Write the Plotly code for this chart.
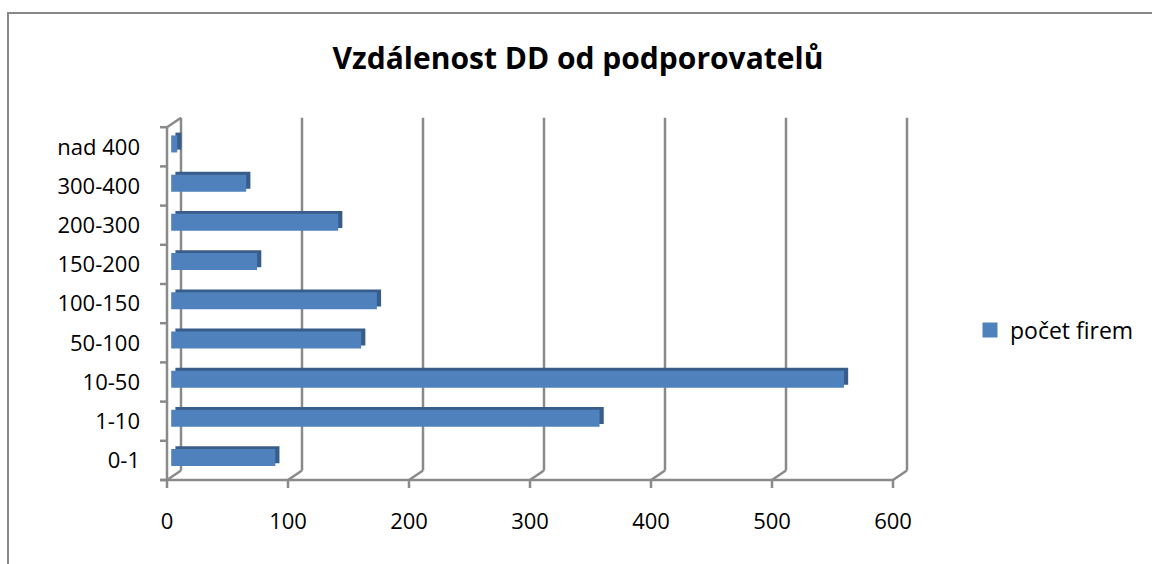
import plotly.graph_objects as go

# ---- data ----
categories = ["0-1", "1-10", "10-50", "50-100", "100-150", "150-200", "200-300", "300-400", "nad 400"]
counts = [86, 354, 556, 157, 170, 71, 138, 62, 5]
x_ticks = [0, 100, 200, 300, 400, 500, 600]
series_name = "počet firem"
title_text = "Vzdálenost DD od podporovatelů"

# ---- geometry / style constants ----
W, H = 1152, 564
PX_PER_UNIT = 1.21      # px per value unit on the front plane
PX_PER_CAT = 39.2       # px per category
X0_PX = 167             # px of value 0 (front plane)
YB_PX = 480             # px of front floor line
DX_PX, DY_PX = 14, 9.5  # 3D depth offset
plot_left, plot_right, plot_top, plot_bottom = 155, 913, 112, 492

xlo = (plot_left - X0_PX) / PX_PER_UNIT
xhi = (plot_right - X0_PX) / PX_PER_UNIT
ylo = -0.5 - (plot_bottom - YB_PX) / PX_PER_CAT
yhi = -0.5 + (YB_PX - plot_top) / PX_PER_CAT

dxu = DX_PX / PX_PER_UNIT
dyc = DY_PX / PX_PER_CAT
front_f, depth_d = 0.3, 0.3
bar_h = 17 / PX_PER_CAT

FONT = "Open Sans"
GRID = "#8a8a8a"
FRONT = "#4f81bd"
DARK = "#385d8a"

fig = go.Figure()
# back/top/side faces
fig.add_trace(go.Bar(
    y=categories, x=counts, orientation="h",
    base=(front_f + depth_d) * dxu,
    width=bar_h, offset=-bar_h / 2 + (front_f + depth_d) * dyc,
    marker=dict(color=DARK, line=dict(width=0)),
    showlegend=False, hoverinfo="skip",
))
# front faces
fig.add_trace(go.Bar(
    y=categories, x=counts, orientation="h", name=series_name,
    base=front_f * dxu,
    width=bar_h, offset=-bar_h / 2 + front_f * dyc,
    marker=dict(color=FRONT, line=dict(width=0)),
    showlegend=False,
))
# legend entry (square key like the reference)
fig.add_trace(go.Scatter(
    x=[None], y=[None], mode="markers", name=series_name,
    marker=dict(symbol="square", size=15, color=FRONT),
    showlegend=True,
))

shapes = []
top_c = len(categories) - 0.5
line = dict(color=GRID, width=2.5)
for t in x_ticks:
    shapes.append(dict(type="line", xref="x", yref="y", layer="below",
                       x0=t + dxu, y0=-0.5 + dyc, x1=t + dxu, y1=top_c + dyc, line=line))
    shapes.append(dict(type="line", xref="x", yref="y", layer="below",
                       x0=t, y0=-0.5, x1=t + dxu, y1=-0.5 + dyc, line=line))
    shapes.append(dict(type="line", xref="x", yref="y", layer="below",
                       x0=t, y0=-0.5, x1=t, y1=-0.5 - 8 / PX_PER_CAT, line=line))
# floor front line
shapes.append(dict(type="line", xref="x", yref="y", layer="below",
                   x0=-7 / PX_PER_UNIT, y0=-0.5, x1=x_ticks[-1], y1=-0.5, line=line))
# left wall
shapes.append(dict(type="line", xref="x", yref="y", layer="below",
                   x0=0, y0=-0.5, x1=0, y1=top_c, line=line))
shapes.append(dict(type="line", xref="x", yref="y", layer="below",
                   x0=0, y0=top_c, x1=dxu, y1=top_c + dyc, line=line))
for k in range(len(categories) + 1):
    shapes.append(dict(type="line", xref="x", yref="y", layer="below",
                       x0=0, y0=k - 0.5, x1=-7 / PX_PER_UNIT, y1=k - 0.5, line=line))

# outer chart border
pw = plot_right - plot_left
ph = plot_bottom - plot_top
shapes.append(dict(type="rect", xref="paper", yref="paper", layer="below",
                   x0=(8 - plot_left) / pw, x1=(W + 20 - plot_left) / pw,
                   y0=1 - (H + 20 - plot_top) / ph, y1=1 + (plot_top - 13) / ph,
                   line=dict(color="#888888", width=2)))

fig.update_layout(
    width=W, height=H, autosize=False,
    paper_bgcolor="white", plot_bgcolor="rgba(0,0,0,0)",
    margin=dict(l=plot_left, r=W - plot_right, t=plot_top, b=H - plot_bottom, pad=0),
    barmode="overlay",
    font=dict(family=FONT, size=22, color="black"),
    title=dict(text="<b>" + title_text + "</b>", x=578 / W, xanchor="center",
               xref="container", yref="container", y=1 - 58 / H, yanchor="middle",
               font=dict(family=FONT, size=30, color="black")),
    xaxis=dict(range=[xlo, xhi], tickvals=x_ticks, ticks="", showgrid=False,
               zeroline=False, showline=False, ticklabelstandoff=14,
               tickfont=dict(family=FONT, size=22, color="black")),
    yaxis=dict(type="category", categoryorder="array", categoryarray=categories,
               range=[ylo, yhi], ticks="", showgrid=False, zeroline=False,
               showline=False, ticklabelstandoff=14,
               tickfont=dict(family=FONT, size=22, color="black")),
    legend=dict(xref="container", yref="container", x=970 / W, y=1 - 330 / H,
                xanchor="left", yanchor="middle", font=dict(family=FONT, size=23),
                bgcolor="rgba(0,0,0,0)", itemwidth=30),
    shapes=shapes,
    showlegend=True,
)

fig.write_html("out.html", config={"displayModeBar": False},
               post_script="document.body.style.margin='0';")
